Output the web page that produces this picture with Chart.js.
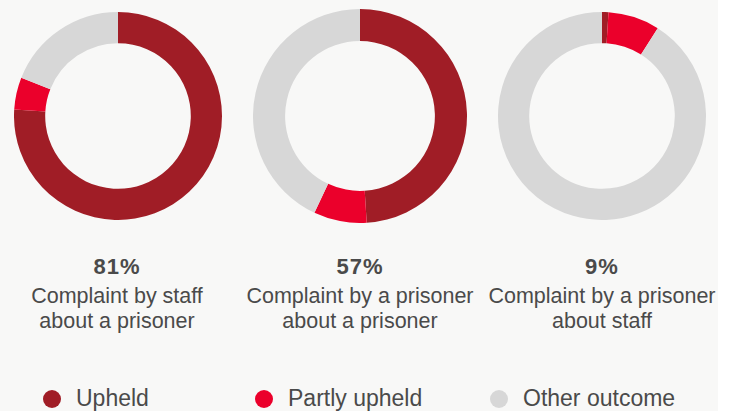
<!DOCTYPE html>
<html>
<head>
<meta charset="utf-8">
<script src="https://cdn.jsdelivr.net/npm/chart.js@4"></script>
<style>
  html, body { margin: 0; padding: 0; background: #ffffff; }
  #bg { position: absolute; left: 0; top: 0; width: 718px; height: 411px; background: #f8f8f7; overflow: hidden;
        font-family: "Liberation Sans", Arial, Helvetica, sans-serif; color: #4a4a4a; }
  .cv { position: absolute; }
  .lbl { position: absolute; width: 260px; text-align: center; }
  .pct { font-weight: bold; font-size: 22px; line-height: 26px; letter-spacing: 1px; }
  .desc { font-size: 21.5px; line-height: 25px; }
  .leg { position: absolute; top: 385px; font-size: 23px; line-height: 26px; white-space: nowrap; }
  .dot { position: absolute; width: 18px; height: 18px; border-radius: 50%; top: 5px; }
</style>
</head>
<body>
<div id="bg">
  <canvas id="c0" class="cv" style="left:14px;top:12px"></canvas>
  <canvas id="c1" class="cv" style="left:253px;top:9px"></canvas>
  <canvas id="c2" class="cv" style="left:498px;top:12px"></canvas>
  <div id="labels"></div>
  <div id="legend"></div>
</div>
<script>
const seriesNames = ["Upheld", "Partly upheld", "Other outcome"];
const seriesColors = ["#a01d26", "#eb002b", "#d7d7d7"];
const categories = [
  ["Complaint by staff", "about a prisoner"],
  ["Complaint by a prisoner", "about a prisoner"],
  ["Complaint by a prisoner", "about staff"]
];
const totals = ["81%", "57%", "9%"];
const upheld = [76, 49, 1];
const partlyUpheld = [5, 8, 8];
const otherOutcome = [19, 43, 91];

const sizes = [208, 214, 208];
const centersX = [117, 360, 602];

for (let i = 0; i < 3; i++) {
  const cv = document.getElementById("c" + i);
  cv.width = sizes[i]; cv.height = sizes[i];
  cv.style.width = sizes[i] + "px"; cv.style.height = sizes[i] + "px";
  new Chart(cv, {
    type: "doughnut",
    data: {
      labels: seriesNames,
      datasets: [{
        data: [upheld[i], partlyUpheld[i], otherOutcome[i]],
        backgroundColor: seriesColors,
        borderWidth: 0
      }]
    },
    options: {
      responsive: false,
      animation: false,
      cutout: "70%",
      layout: { padding: 0 },
      plugins: { legend: { display: false }, tooltip: { enabled: false } }
    }
  });
  const lab = document.createElement("div");
  lab.className = "lbl";
  lab.style.left = (centersX[i] - 130) + "px";
  lab.style.top = "254px";
  lab.innerHTML = '<div class="pct">' + totals[i] + '</div><div class="desc" style="margin-top:4px">' +
    categories[i][0] + '</div><div class="desc">' + categories[i][1] + '</div>';
  document.getElementById("labels").appendChild(lab);
}

const legX = [43, 255, 490];
const leg = document.getElementById("legend");
seriesNames.forEach((n, i) => {
  const d = document.createElement("div");
  d.className = "leg";
  d.style.left = legX[i] + "px";
  d.innerHTML = '<span class="dot" style="left:0;background:' + seriesColors[i] + '"></span><span style="padding-left:33px">' + n + '</span>';
  leg.appendChild(d);
});
</script>
</body>
</html>
